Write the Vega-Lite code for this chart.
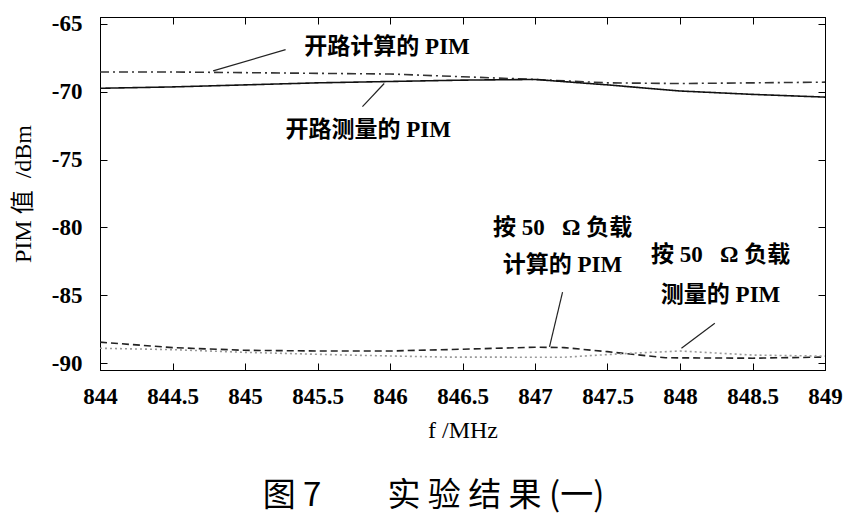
{
  "$schema": "https://vega.github.io/schema/vega-lite/v6.json",
  "autosize": {"type": "none"},
  "padding": {"left": 100, "top": 17, "right": 26, "bottom": 151},
  "width": 725, "height": 353,
  "background": "white",
  "title": {
    "text": "图\u00a07\u3000\u3000实\u00a0验\u00a0结\u00a0果\u00a0(一)",
    "orient": "bottom", "anchor": "middle", "dx": -29, "offset": 38,
    "font": "Noto Sans CJK SC", "fontSize": 33, "fontWeight": "normal", "color": "black"
  },
  "datasets": {
    "curves": [
      {"f": 844, "pim": -68.55, "s": "开路计算"},
      {"f": 844.5, "pim": -68.55, "s": "开路计算"},
      {"f": 845, "pim": -68.6, "s": "开路计算"},
      {"f": 845.5, "pim": -68.65, "s": "开路计算"},
      {"f": 846, "pim": -68.7, "s": "开路计算"},
      {"f": 846.5, "pim": -68.9, "s": "开路计算"},
      {"f": 847, "pim": -69.1, "s": "开路计算"},
      {"f": 847.5, "pim": -69.35, "s": "开路计算"},
      {"f": 848, "pim": -69.4, "s": "开路计算"},
      {"f": 848.5, "pim": -69.35, "s": "开路计算"},
      {"f": 849, "pim": -69.3, "s": "开路计算"},
      {"f": 844, "pim": -69.75, "s": "开路测量"},
      {"f": 844.5, "pim": -69.65, "s": "开路测量"},
      {"f": 845, "pim": -69.5, "s": "开路测量"},
      {"f": 845.5, "pim": -69.35, "s": "开路测量"},
      {"f": 846, "pim": -69.25, "s": "开路测量"},
      {"f": 846.5, "pim": -69.15, "s": "开路测量"},
      {"f": 847, "pim": -69.1, "s": "开路测量"},
      {"f": 847.5, "pim": -69.5, "s": "开路测量"},
      {"f": 848, "pim": -69.95, "s": "开路测量"},
      {"f": 848.5, "pim": -70.2, "s": "开路测量"},
      {"f": 849, "pim": -70.4, "s": "开路测量"},
      {"f": 844, "pim": -88.45, "s": "负载计算"},
      {"f": 844.5, "pim": -88.85, "s": "负载计算"},
      {"f": 845, "pim": -89.05, "s": "负载计算"},
      {"f": 845.5, "pim": -89.1, "s": "负载计算"},
      {"f": 846, "pim": -89.1, "s": "负载计算"},
      {"f": 846.5, "pim": -88.97, "s": "负载计算"},
      {"f": 847, "pim": -88.82, "s": "负载计算"},
      {"f": 847.2, "pim": -88.85, "s": "负载计算"},
      {"f": 847.5, "pim": -89.15, "s": "负载计算"},
      {"f": 847.9, "pim": -89.6, "s": "负载计算"},
      {"f": 848.5, "pim": -89.63, "s": "负载计算"},
      {"f": 849, "pim": -89.55, "s": "负载计算"},
      {"f": 844, "pim": -88.9, "s": "负载测量"},
      {"f": 844.5, "pim": -89.0, "s": "负载测量"},
      {"f": 845, "pim": -89.2, "s": "负载测量"},
      {"f": 845.7, "pim": -89.4, "s": "负载测量"},
      {"f": 846.4, "pim": -89.55, "s": "负载测量"},
      {"f": 847.2, "pim": -89.56, "s": "负载测量"},
      {"f": 847.6, "pim": -89.3, "s": "负载测量"},
      {"f": 848, "pim": -89.1, "s": "负载测量"},
      {"f": 848.5, "pim": -89.4, "s": "负载测量"},
      {"f": 849, "pim": -89.48, "s": "负载测量"}
    ],
    "notes": [
      {"x": 845.98, "y": -66.7, "t": "开路计算的 PIM"},
      {"x": 845.85, "y": -72.8, "t": "开路测量的 PIM"},
      {"x": 847.19, "y": -80.04, "t": "按 50\u00a0\u00a0\u00a0Ω 负载"},
      {"x": 847.19, "y": -82.8, "t": "计算的 PIM"},
      {"x": 848.28, "y": -82.03, "t": "按 50\u00a0\u00a0\u00a0Ω 负载"},
      {"x": 848.28, "y": -85.0, "t": "测量的 PIM"}
    ],
    "leaders": [
      {"x": 844.78, "y": -68.47, "x2": 845.28, "y2": -66.9},
      {"x": 845.96, "y": -69.4, "x2": 845.81, "y2": -71.1},
      {"x": 847.1, "y": -88.8, "x2": 847.19, "y2": -84.76},
      {"x": 848.01, "y": -88.9, "x2": 848.24, "y2": -87.05}
    ]
  },
  "layer": [
    {
      "data": {"name": "curves"},
      "mark": {"type": "line", "strokeWidth": 1.6},
      "encoding": {
        "x": {
          "field": "f", "type": "quantitative",
          "scale": {"domain": [844, 849], "nice": false, "zero": false},
          "axis": {
            "values": [844, 844.5, 845, 845.5, 846, 846.5, 847, 847.5, 848, 848.5, 849],
            "labelExpr": "'' + datum.value", "labelPadding": 22, "title": "f /MHz", "titlePadding": 10, "titleFontSize": 24
          }
        },
        "y": {
          "field": "pim", "type": "quantitative",
          "scale": {"domain": [-90.5, -64.5], "nice": false, "zero": false},
          "axis": {
            "values": [-90, -85, -80, -75, -70, -65],
            "labelExpr": "'' + datum.value", "labelPadding": 25, "title": "PIM 值\u00a0\u00a0/dBm", "titlePadding": 16, "titleFontSize": 24
          }
        },
        "color": {
          "field": "s", "type": "nominal", "legend": null,
          "scale": {"domain": ["开路计算", "开路测量", "负载计算", "负载测量"], "range": ["#333333", "#111111", "#222222", "#999999"]}
        },
        "strokeDash": {
          "field": "s", "type": "nominal", "legend": null,
          "scale": {"domain": ["开路计算", "开路测量", "负载计算", "负载测量"], "range": [[9, 4, 2, 4], [1, 0], [7, 4], [2, 3]]}
        }
      }
    },
    {
      "data": {"name": "curves"},
      "mark": {"type": "point", "opacity": 0},
      "encoding": {
        "x": {"field": "f", "type": "quantitative", "axis": {"orient": "top", "labels": false, "title": null, "values": [844, 844.5, 845, 845.5, 846, 846.5, 847, 847.5, 848, 848.5, 849]}},
        "y": {"field": "pim", "type": "quantitative", "axis": {"orient": "right", "labels": false, "title": null, "values": [-90, -85, -80, -75, -70, -65]}}
      }
    },
    {
      "data": {"name": "leaders"},
      "mark": {"type": "rule", "color": "#222222", "strokeWidth": 1.2},
      "encoding": {
        "x": {"field": "x", "type": "quantitative", "axis": null},
        "y": {"field": "y", "type": "quantitative", "axis": null},
        "x2": {"field": "x2"},
        "y2": {"field": "y2"}
      }
    },
    {
      "data": {"name": "notes"},
      "mark": {"type": "text", "font": "Liberation Serif, Noto Sans CJK SC", "fontSize": 23, "fontWeight": "bold", "color": "black", "align": "center", "baseline": "middle"},
      "encoding": {
        "x": {"field": "x", "type": "quantitative", "axis": null},
        "y": {"field": "y", "type": "quantitative", "axis": null},
        "text": {"field": "t"}
      }
    }
  ],
  "resolve": {"axis": {"x": "independent", "y": "independent"}},
  "config": {
    "view": {"stroke": "black", "strokeWidth": 1},
    "axis": {
      "grid": false, "domainColor": "black", "tickColor": "black", "tickSize": -7,
      "labelFont": "Liberation Serif", "labelFontSize": 23, "labelFontWeight": "bold", "labelColor": "black",
      "titleFont": "Liberation Serif, Noto Sans CJK SC", "titleFontWeight": "normal", "titleColor": "black",
      "labelFlush": false, "labelOverlap": false
    }
  }
}
